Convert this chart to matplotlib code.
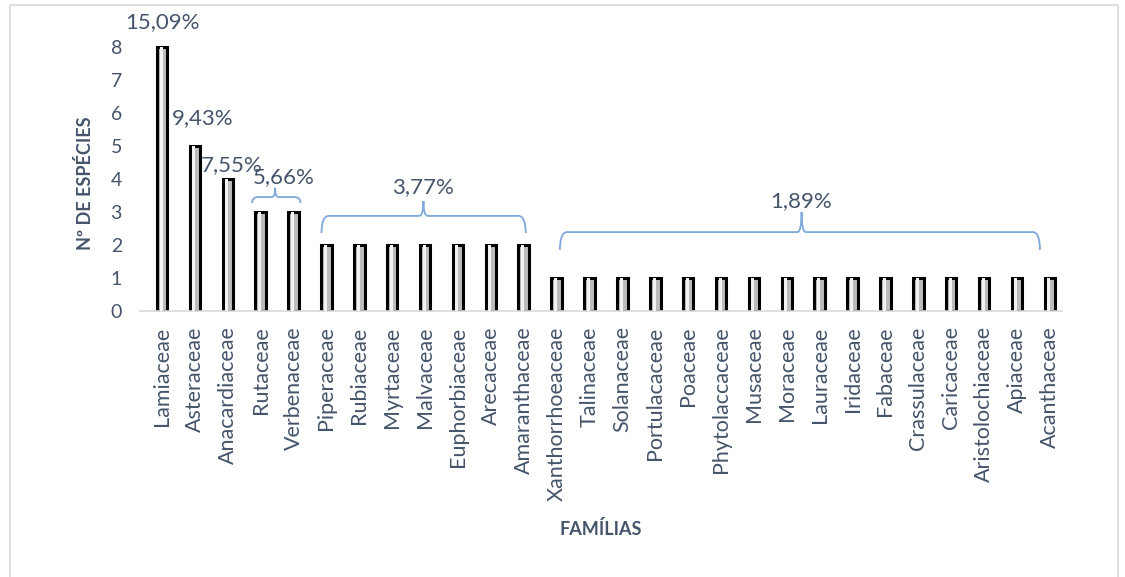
import numpy as np
import matplotlib
matplotlib.use('Agg')
import matplotlib.pyplot as plt
from matplotlib.path import Path
from matplotlib.patches import PathPatch, Rectangle

familias = ["Lamiaceae", "Asteraceae", "Anacardiaceae", "Rutaceae", "Verbenaceae",
            "Piperaceae", "Rubiaceae", "Myrtaceae", "Malvaceae", "Euphorbiaceae",
            "Arecaceae", "Amaranthaceae", "Xanthorrhoeaceae", "Talinaceae", "Solanaceae",
            "Portulacaceae", "Poaceae", "Phytolaccaceae", "Musaceae", "Moraceae",
            "Lauraceae", "Iridaceae", "Fabaceae", "Crassulaceae", "Caricaceae",
            "Aristolochiaceae", "Apiaceae", "Acanthaceae"]
especies = [8, 5, 4, 3, 3, 2, 2, 2, 2, 2, 2, 2,
            1, 1, 1, 1, 1, 1, 1, 1, 1, 1, 1, 1, 1, 1, 1, 1]
percentuais = ["15,09%", "9,43%", "7,55%", "5,66%", "3,77%", "1,89%"]

TXT = '#44546A'
BRACE = '#7FA8DC'
plt.rcParams['font.family'] = ['Lato', 'DejaVu Sans']


def brace(ax, x0, x1, xt, y_end, y_h, y_tip, r=0.22, r2=0.13):
    verts = [(x0, y_end), (x0, y_h), (x0 + r, y_h),
             (xt - r2, y_h), (xt, y_h), (xt, y_tip),
             (xt, y_h), (xt + r2, y_h),
             (x1 - r, y_h), (x1, y_h), (x1, y_end)]
    codes = [Path.MOVETO, Path.CURVE3, Path.CURVE3,
             Path.LINETO, Path.CURVE3, Path.CURVE3,
             Path.CURVE3, Path.CURVE3,
             Path.LINETO, Path.CURVE3, Path.CURVE3]
    ax.add_patch(PathPatch(Path(verts, codes), fill=False, edgecolor=BRACE,
                           lw=1.3, clip_on=False))


def main():
    fig = plt.figure(figsize=(11.25, 5.77), dpi=100)
    fig.patches.append(Rectangle((10 / 1125, -0.05), 1108 / 1125, 1.05 - 5 / 577,
                                 transform=fig.transFigure, fill=False,
                                 edgecolor='#D9D9D9', lw=1.2))
    ax = fig.add_axes([140 / 1125, 266 / 577, 922 / 1125, 284 / 577])

    x = np.arange(len(familias))
    ax.bar(x, especies, width=0.32, color='#BDBDBD', edgecolor='black', lw=2.2, zorder=2)
    ax.bar(x - 0.03, especies, width=0.09, color='#F2F2F2', lw=0, zorder=3)

    ax.set_xlim(-0.67, len(familias) - 1 + 0.37)
    ax.set_ylim(0, 8.6)
    ax.set_yticks(range(0, 9))
    ax.set_xticks(x)
    ax.set_xticklabels(familias, rotation=90, fontsize=15.5, color=TXT)
    ax.tick_params(axis='y', length=0, pad=13, labelsize=14, labelcolor=TXT)
    ax.tick_params(axis='x', length=0, pad=11)
    for s in ['top', 'right', 'left']:
        ax.spines[s].set_visible(False)
    ax.spines['bottom'].set_color('#D9D9D9')
    ax.spines['bottom'].set_linewidth(1.2)

    ax.set_ylabel("Nº DE ESPÉCIES", fontsize=13, fontweight='bold', color=TXT)
    ax.yaxis.set_label_coords(-0.05, 0.45)
    ax.set_xlabel("FAMÍLIAS", fontsize=13, fontweight='bold', color=TXT, labelpad=14)

    # rótulos percentuais
    pos = [(0.0, 8.76), (1.25, 5.85), (2.13, 4.42), (3.69, 4.06), (7.95, 3.76), (19.45, 3.33)]
    for (px, py), t in zip(pos, percentuais):
        ax.text(px, py, t, ha='center', va='center', fontsize=16, color=TXT, clip_on=False)

    brace(ax, 2.74, 4.21, 3.44, 3.27, 3.45, 3.73, r=0.18, r2=0.1)
    brace(ax, 4.85, 11.06, 7.95, 2.36, 2.88, 3.33)
    brace(ax, 12.10, 26.70, 19.45, 1.85, 2.39, 3.0)

    fig.savefig("out.png", dpi=100)


if __name__ == "__main__":
    main()
